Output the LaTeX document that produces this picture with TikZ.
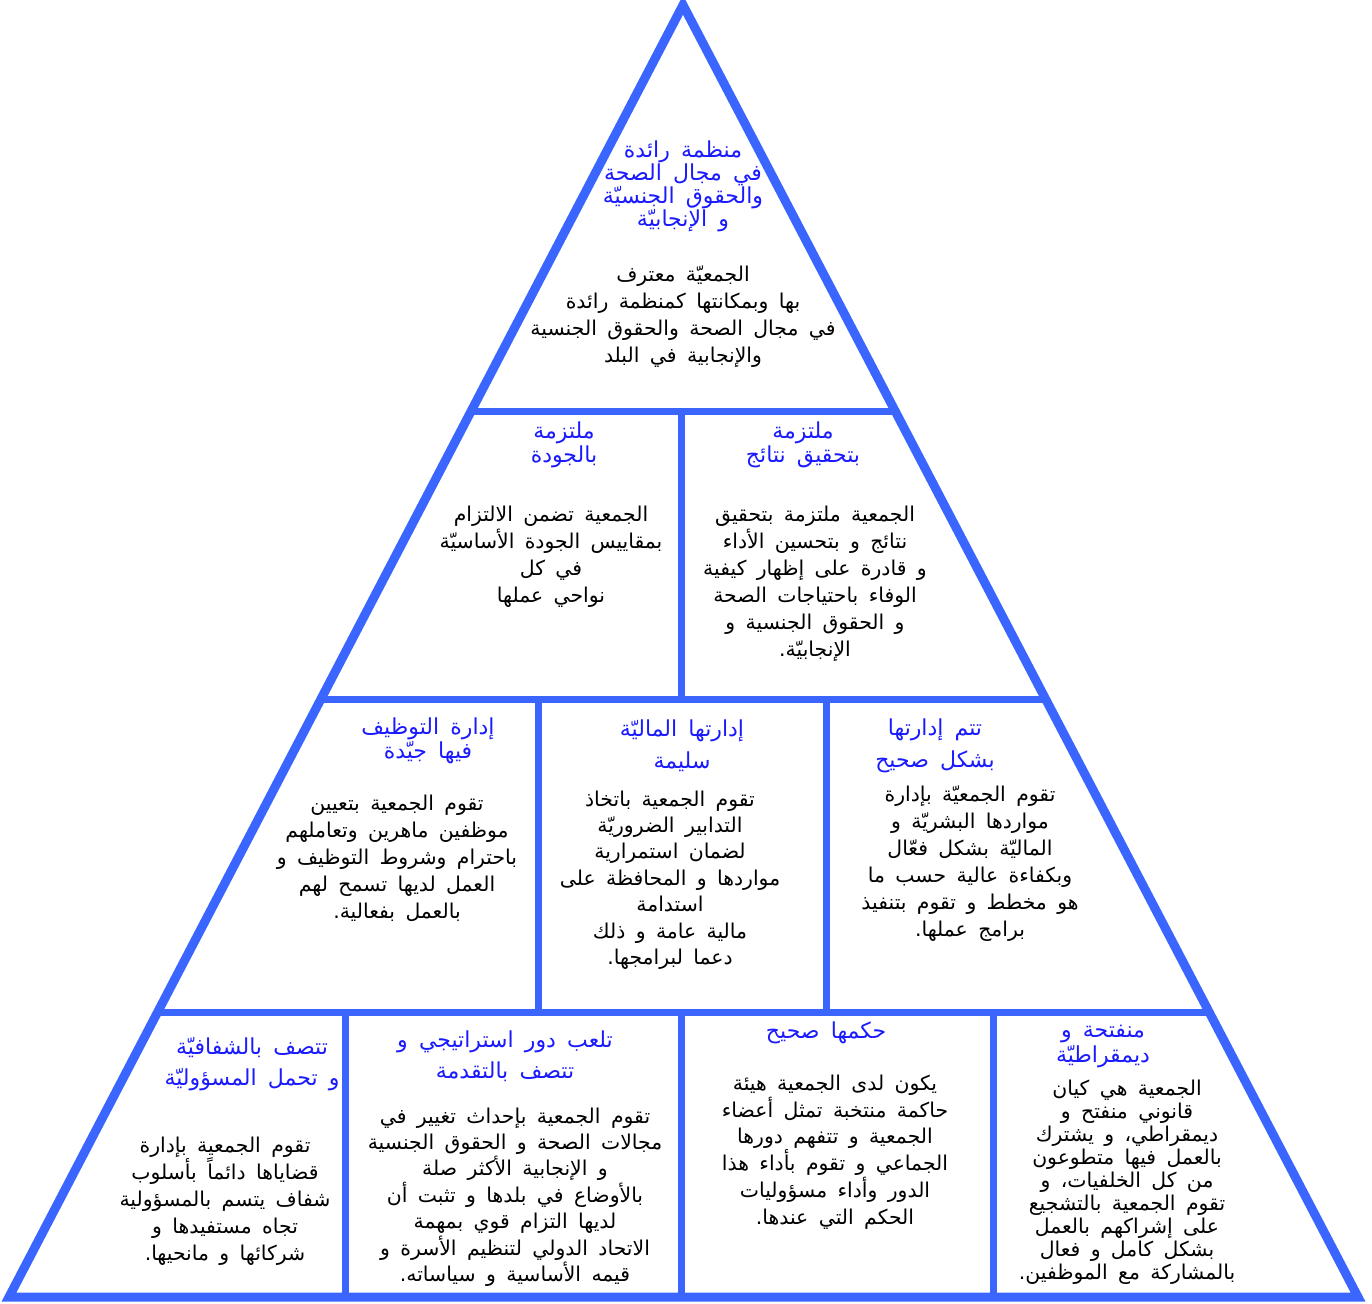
\documentclass[tikz,border=0pt]{standalone}
\usepackage{fontspec}
\usepackage{tikz}
\TeXXeTstate=1
\newfontfamily\arabicfont[Script=Arabic,WordSpace=1.6]{DejaVu Sans}
\definecolor{pyrblue}{HTML}{3A66FF}
\definecolor{titleblue}{HTML}{1A1AFF}
\newcommand\rl[1]{\beginR#1\endR}

\begin{document}
\begin{tikzpicture}[x=0.5pt,y=-0.5pt,
  pyr/.style={draw=pyrblue,line width=4.5pt,line join=miter},
  sep/.style={draw=pyrblue,line width=3.5pt},
  ttl/.style={text=titleblue,align=center,inner sep=0pt,font=\arabicfont\fontsize{11}{#1}\selectfont},
  ttl/.default=11.5pt,
  txt/.style={text=black,align=center,inner sep=0pt,font=\arabicfont\fontsize{10.2}{#1}\selectfont},
  txt/.default=13.5pt]
\useasboundingbox (0,0) rectangle (1372,1303);
% the pyramid and its rows
\coordinate (apex) at (683,5);
\coordinate (bl) at (9,1297);
\coordinate (br) at (1358,1297);
\draw[pyr] (apex) -- (br) -- (bl) -- cycle;
\foreach \l/\r/\y in {471/895/411,320/1046/699,157/1209/1012}
  \draw[sep] (\l,\y) -- (\r,\y);
\foreach \x/\a/\b in {681/411/699,538/699/1012,826/699/1012,345/1012/1297,681/1012/1297,993/1012/1297}
  \draw[sep] (\x,\a) -- (\x,\b);

% top
\node[ttl] (top-t) at (683,186) {\rl{منظمة رائدة}\\\rl{في مجال الصحة}\\\rl{والحقوق الجنسيّة}\\\rl{و الإنجابيّة}};
\node[txt] (top-b) at (683,317) {\rl{الجمعيّة معترف}\\\rl{بها وبمكانتها كمنظمة  رائدة}\\\rl{في مجال الصحة  والحقوق الجنسية}\\\rl{والإنجابية في البلد}};

% second row
\node[ttl=12pt] (qual-t) at (564,445) {\rl{ملتزمة}\\\rl{بالجودة}};
\node[txt] (qual-b) at (551,557) {\rl{الجمعية تضمن  الالتزام}\\\rl{بمقاييس الجودة الأساسيّة}\\\rl{في كل}\\\rl{نواحي عملها}};
\node[ttl=12pt] (res-t) at (803,445) {\rl{ملتزمة}\\\rl{بتحقيق  نتائج}};
\node[txt] (res-b) at (815,584) {\rl{الجمعية ملتزمة بتحقيق}\\\rl{نتائج و بتحسين الأداء}\\\rl{و قادرة على إظهار كيفية}\\\rl{الوفاء باحتياجات الصحة}\\\rl{و الحقوق الجنسية و}\\\rl{الإنجابيّة.}};

% third row
\node[ttl=12pt] (emp-t) at (428,741) {\rl{إدارة التوظيف}\\\rl{فيها جيّدة}};
\node[txt] (emp-b) at (397,858) {\rl{تقوم الجمعية بتعيين}\\\rl{موظفين ماهرين وتعاملهم}\\\rl{باحترام وشروط التوظيف و}\\\rl{العمل لديها تسمح لهم}\\\rl{بالعمل بفعالية.}};
\node[ttl=16pt] (fin-t) at (682,746) {\rl{إدارتها الماليّة}\\\rl{سليمة}};
\node[txt=13.2pt] (fin-b) at (670,880) {\rl{تقوم الجمعية باتخاذ}\\\rl{التدابير الضروريّة}\\\rl{لضمان استمرارية}\\\rl{مواردها و المحافظة على}\\\rl{استدامة}\\\rl{مالية عامة و ذلك}\\\rl{دعما لبرامجها.}};
\node[ttl=16pt] (mgmt-t) at (935,746) {\rl{تتم إدارتها}\\\rl{بشكل صحيح}};
\node[txt] (mgmt-b) at (970,864) {\rl{تقوم الجمعيّة بإدارة}\\\rl{مواردها البشريّة و}\\\rl{الماليّة بشكل فعّال}\\\rl{وبكفاءة عالية حسب ما}\\\rl{هو مخطط و تقوم بتنفيذ}\\\rl{برامج عملها.}};

% bottom row
\node[ttl=15.5pt] (tra-t) at (252,1064) {\rl{تتصف بالشفافيّة}\\\rl{و تحمل المسؤوليّة}};
\node[txt] (tra-b) at (225,1201) {\rl{تقوم الجمعية بإدارة}\\\rl{قضاياها دائماً بأسلوب}\\\rl{شفاف يتسم  بالمسؤولية}\\\rl{تجاه مستفيدها و}\\\rl{شركائها و مانحيها.}};
\node[ttl=15.5pt] (str-t) at (505,1056) {\rl{تلعب دور استراتيجي و}\\\rl{تتصف بالتقدمة}};
\node[txt=13.2pt] (str-b) at (515,1197) {\rl{تقوم الجمعية بإحداث تغيير في}\\\rl{مجالات الصحة و الحقوق الجنسية}\\\rl{و الإنجابية الأكثر صلة}\\\rl{بالأوضاع في بلدها  و تثبت أن}\\\rl{لديها التزام قوي بمهمة}\\\rl{الاتحاد الدولي لتنظيم الأسرة و}\\\rl{قيمه الأساسية و سياساته.}};
\node[ttl] (gov-t) at (826,1033) {\rl{حكمها صحيح}};
\node[txt=13.4pt] (gov-b) at (835,1152) {\rl{يكون لدى الجمعية هيئة}\\\rl{حاكمة منتخبة تمثل أعضاء}\\\rl{الجمعية و تتفهم دورها}\\\rl{الجماعي و تقوم بأداء هذا}\\\rl{الدور  وأداء مسؤوليات}\\\rl{الحكم التي عندها.}};
\node[ttl=12.5pt] (dem-t) at (1103,1046) {\rl{منفتحة و}\\\rl{ديمقراطيّة}};
\node[txt=11.5pt] (dem-b) at (1127,1182) {\rl{الجمعية هي كيان}\\\rl{قانوني منفتح و}\\\rl{ديمقراطي، و يشترك}\\\rl{بالعمل فيها متطوعون}\\\rl{من كل الخلفيات، و}\\\rl{تقوم الجمعية بالتشجيع}\\\rl{على إشراكهم بالعمل}\\\rl{بشكل كامل و فعال}\\\rl{بالمشاركة مع الموظفين.}};
\end{tikzpicture}
\end{document}
